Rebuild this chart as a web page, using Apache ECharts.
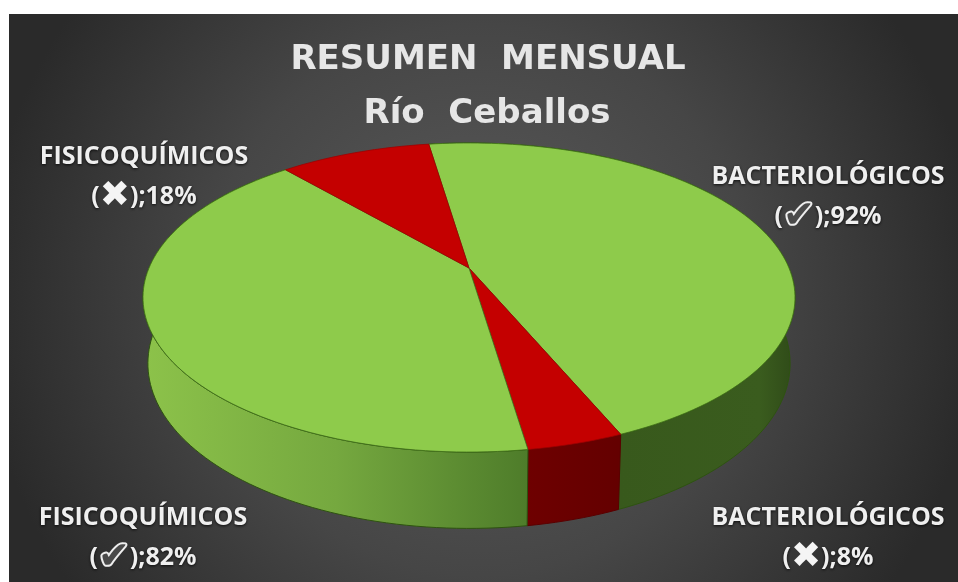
<!DOCTYPE html>
<html><head><meta charset="utf-8">
<style>html,body{margin:0;padding:0;background:#fff}#c{width:958px;height:582px}</style>
<script src="https://cdn.jsdelivr.net/npm/echarts@6/dist/echarts.min.js"></script>
</head><body><div id="c"></div>
<script>
const titleLines = ['RESUMEN  MENSUAL', 'Río  Ceballos'];
const categories = ['BACTERIOLÓGICOS', 'BACTERIOLÓGICOS', 'FISICOQUÍMICOS', 'FISICOQUÍMICOS'];
const marks = ['check', 'cross', 'check', 'cross'];
const values = [92, 8, 82, 18];

const chart = echarts.init(document.getElementById('c'));
const W = 958, H = 582;
const total = values.reduce((a, b) => a + b, 0);
const startDeg = -8.6;
const angles = [];
values.reduce((acc, v) => { angles.push([acc, acc + v / total * 360]); return acc + v / total * 360; }, startDeg);

// perspective projection of the pie disc
const P = { cx: 469, cy: 268, a: 320, b: 148.9, k: 0.191, scale: 0.985, depth: 64 };
function project(deg, lower) {
  const t = deg * Math.PI / 180, u = Math.sin(t), v = -Math.cos(t), w = 1 - P.k * v;
  if (!lower) return [P.cx + P.a * u / w, P.cy + P.b * v / w];
  return [P.cx + P.scale * P.a * u / w, P.cy + (P.scale * P.b * v + P.depth) / w];
}
function arc(a0, a1, lower) {
  const n = Math.max(4, Math.ceil(Math.abs(a1 - a0) / 1.5)), pts = [];
  for (let i = 0; i <= n; i++) pts.push(project(a0 + (a1 - a0) * i / n, lower));
  return pts;
}
const G = echarts.graphic;
const topFill = ['#8ECB4B', '#C40000', '#8ECB4B', '#C40000'];
const topStroke = ['#3F6E18', '#A00000', '#3F6E18', '#A00000'];
const wallFill = [
  new G.LinearGradient(620, 0, 795, 0, [{offset:0,color:'#38591C'},{offset:0.8,color:'#3A5C1E'},{offset:1,color:'#2F4A18'}], true),
  new G.LinearGradient(528, 0, 618, 0, [{offset:0,color:'#6E0000'},{offset:1,color:'#640000'}], true),
  new G.LinearGradient(146, 0, 528, 0, [{offset:0,color:'#8CC24A'},{offset:0.5,color:'#75A83F'},{offset:1,color:'#4E7C2A'}], true),
  '#3A3A3A'
];
function renderWall(params, api) {
  const i = api.value(0), [a0, a1] = angles[i];
  if (i === 3) return { type: 'group', children: [] };
  const pts = arc(a0, a1, false).concat(arc(a0, a1, true).reverse());
  return { type: 'polygon', shape: { points: pts },
    style: { fill: wallFill[i], stroke: i === 1 ? '#5A0000' : '#2E5310', lineWidth: 1 } };
}
function renderTop(params, api) {
  const i = api.value(0), [a0, a1] = angles[i];
  const pts = [[P.cx, P.cy]].concat(arc(a0, a1, false));
  return { type: 'polygon', shape: { points: pts },
    style: { fill: topFill[i], stroke: topStroke[i], lineWidth: 0.8 } };
}
const shadow = { textShadowColor: 'rgba(0,0,0,0.8)', textShadowBlur: 3, textShadowOffsetY: 1 };
const rich = {
  t: Object.assign({ fontFamily: 'Open Sans', fontWeight: 'bold', fontSize: 25, fill: '#EFEFEF', lineHeight: 40 }, shadow),
  n: Object.assign({ fontFamily: 'Open Sans', fontWeight: 'bold', fontSize: 25, fill: '#EFEFEF', lineHeight: 40 }, shadow),
  cross: { fontFamily: 'DejaVu Sans', fontSize: 36, fill: '#F5F5F5', lineHeight: 40 },
  check: { fontFamily: 'DejaVu Sans', fontSize: 38, fill: '#4A4A4A', stroke: '#EEEEEE', lineWidth: 4, lineHeight: 40 }
};
const markChar = { cross: '\u2716', check: '\u2714' };
function labelText(i) {
  return '{t|' + categories[i] + '}\n{n|(}{' + marks[i] + '|' + markChar[marks[i]] + '}{n|);' + values[i] + '%}';
}
const labelAnchors = [[828, 197], [828, 538], [143, 538], [144, 177]];
const labelEls = values.map((v, i) => ({
  type: 'text', x: labelAnchors[i][0], y: labelAnchors[i][1], z: 10,
  style: { text: labelText(i), rich, align: 'center', verticalAlign: 'middle' }
}));
const titleStyle = { fontFamily: 'DejaVu Sans', fontWeight: 700, fontSize: 34, fill: '#E6E6E6', align: 'center', verticalAlign: 'middle',
  shadowColor: 'rgba(0,0,0,.8)', shadowBlur: 4, shadowOffsetY: 2 };
chart.setOption({
  animation: false,
  backgroundColor: '#fff',
  graphic: { elements: [
    { type: 'rect', z: -1, shape: { x: 9, y: 14, width: W - 9, height: H - 14 },
      style: { fill: new G.RadialGradient(480, 300, 500,
        [{ offset: 0, color: '#5C5C5C' }, { offset: 0.55, color: '#464646' }, { offset: 1, color: '#2A2A2A' }], true) } },
    { type: 'text', x: 488, y: 60, z: 10, style: Object.assign({ text: titleLines[0] }, titleStyle) },
    { type: 'text', x: 487, y: 114, z: 10, style: Object.assign({ text: titleLines[1] }, titleStyle) }
  ].concat(labelEls) },
  series: [
    { type: 'custom', coordinateSystem: 'none', z: 2, silent: true, renderItem: renderWall, data: values.map((v, i) => [i, v]) },
    { type: 'custom', coordinateSystem: 'none', z: 3, silent: true, renderItem: renderTop, data: values.map((v, i) => [i, v]) }
  ]
});
</script></body></html>
